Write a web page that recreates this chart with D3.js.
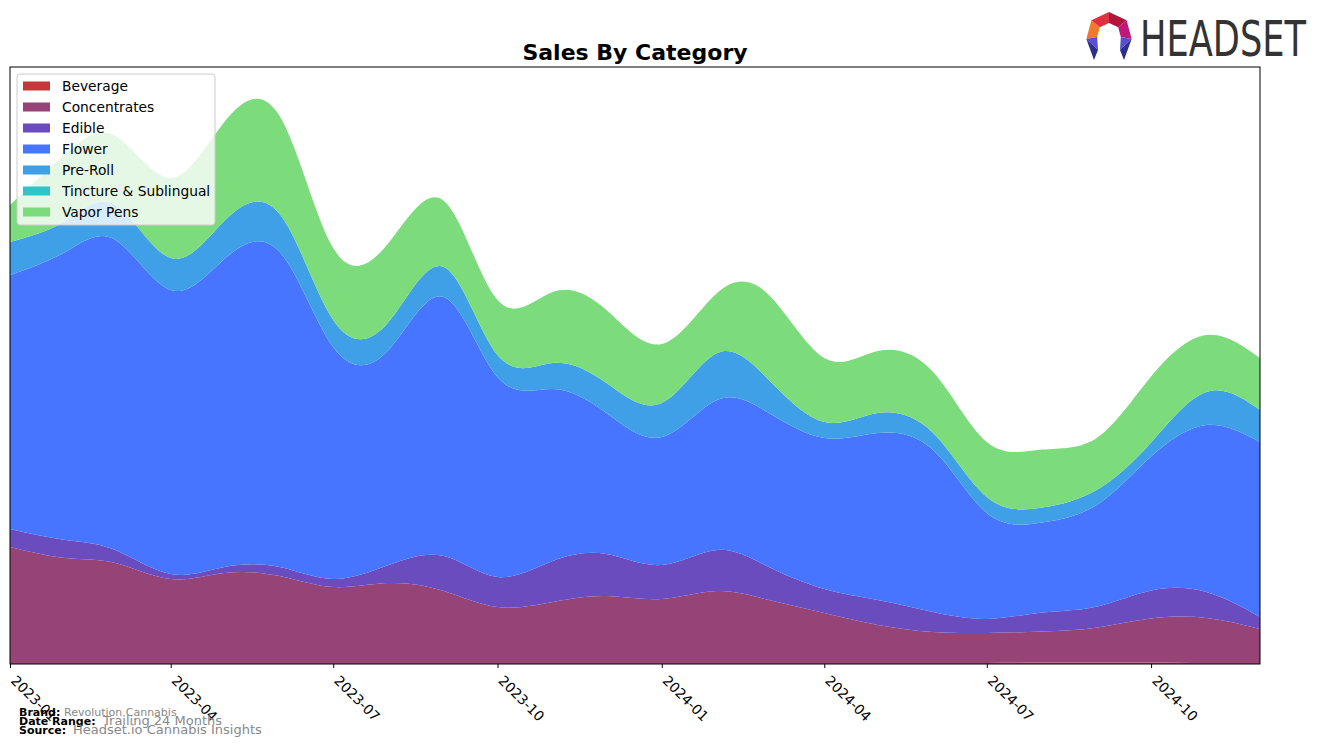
<!DOCTYPE html>
<html><head><meta charset="utf-8">
<script src="https://cdnjs.cloudflare.com/ajax/libs/d3/7.8.5/d3.min.js"></script>
<style>
html,body{margin:0;padding:0;background:#fff;}
svg{display:block;font-family:"DejaVu Sans",sans-serif;}
</style></head><body>
<svg id="chart" width="1324" height="748"></svg>
<script>
const months = ["2023-01","2023-02","2023-03","2023-04","2023-05","2023-06","2023-07","2023-08","2023-09","2023-10","2023-11","2023-12","2024-01","2024-02","2024-03","2024-04","2024-05","2024-06","2024-07","2024-08","2024-09","2024-10","2024-11","2024-12"];
const categories = ["Beverage","Concentrates","Edible","Flower","Pre-Roll","Tincture & Sublingual","Vapor Pens"];
const colors = ["#c83737","#964477","#6a4cbe","#4775ff","#3fa0e8","#2ec4c9","#7cdc7c"];
const beverage     = [1,1,1,1,1,1,1,1,1,1,1,1,1,1,1,1,1,1,1.1,1.4,1.6,1.5,1,1];
const concentrates = [116,105,100,84,90,87,76,80,72,56,61,67,64,72,63,50,38,31,30,31,35,44,45,34];
const edible       = [18,18,13,5,6,9,8,18,35,30,41,42,34,41,33,24,25,20,14,19,21,28,26,12];
const flower       = [254,288,310,284,308,315,232,215,259,200,172,141,128,150,154,151,167,162,106,90,102,134,167,175];
const preRoll      = [33,31,35,32,38,38,27,28,30,22,26,30,34,47,33,16,20,17,16,15,15,14,33,32];
const tincture     = [0,0,0,0,0,0,0,0,0,0,0,0,0,0,0,0,0,0,0,0,0,0,0,0];
const vaporPens    = [37,67,69,80,99,98,72,79,66,55,71,73,59,60,85,64,62,61,55,58,52,66,57,52];
const xTickLabels = ["2023-01","2023-04","2023-07","2023-10","2024-01","2024-04","2024-07","2024-10"];
const yMax = 597;

const series = [beverage,concentrates,edible,flower,preRoll,tincture,vaporPens];
const parse = d3.timeParse("%Y-%m");
const rows = months.map((m,i)=>{
  const r = {date: parse(m)};
  categories.forEach((c,k)=>{ r[c] = series[k][i]; });
  return r;
});

const svg = d3.select("#chart");
const L = 10, R = 1260, T = 67, B = 664;
const x = d3.scaleTime().domain([parse(months[0]), parse(months[months.length-1])]).range([L,R]);
const y = d3.scaleLinear().domain([0,yMax]).range([B,T]);

const stack = d3.stack().keys(categories);
const layers = stack(rows);

svg.append("defs").append("clipPath").attr("id","clip")
  .append("rect").attr("x",L).attr("y",T).attr("width",R-L).attr("height",B-T);

const area = d3.area().curve(d3.curveNatural)
  .x(d=>x(d.data.date)).y0(d=>y(d[0])).y1(d=>y(d[1]));

svg.append("g").attr("clip-path","url(#clip)")
  .selectAll("path").data(layers).join("path")
  .attr("d",area).attr("fill",(d,i)=>colors[i]);

// frame
svg.append("rect").attr("x",L).attr("y",T).attr("width",R-L).attr("height",B-T)
  .attr("fill","none").attr("stroke","#000").attr("stroke-width",1);

// x axis
const tickDates = xTickLabels.map(parse);
const xAxis = d3.axisBottom(x).tickValues(tickDates).tickSize(4).tickFormat(d3.timeFormat("%Y-%m"));
const gx = svg.append("g").attr("transform",`translate(0,${B})`).call(xAxis);
gx.select(".domain").remove();
gx.selectAll(".tick line").attr("stroke","#000");
gx.selectAll(".tick text")
  .attr("font-size",13.8).attr("fill","#000").attr("font-family","DejaVu Sans")
  .attr("text-anchor","start").attr("y",0).attr("dy","0.35em")
  .attr("transform","translate(3,14) rotate(45)");

// title
svg.append("text").attr("x",635).attr("y",60).attr("text-anchor","middle")
  .attr("font-size",22).attr("font-weight","bold").text("Sales By Category");

// legend
const lg = svg.append("g");
lg.append("rect").attr("x",17).attr("y",74).attr("width",198).attr("height",151).attr("rx",3)
  .attr("fill","#fff").attr("fill-opacity",0.8).attr("stroke","#cccccc");
categories.forEach((c,i)=>{
  const cy = 86 + i*21;
  lg.append("rect").attr("x",23).attr("y",cy-4.5).attr("width",27).attr("height",9).attr("fill",colors[i]);
  lg.append("text").attr("x",62).attr("y",cy+5).attr("font-size",13.8).text(c);
});

// footer
const foot = [["Brand:","Revolution Cannabis",716,64,11],["Date Range:","Trailing 24 Months",725,103,13],["Source:","Headset.io Cannabis Insights",734,73,13]];
foot.forEach(f=>{
  svg.append("text").attr("x",19).attr("y",f[2]).attr("font-size",11).attr("font-weight","bold").text(f[0]);
  svg.append("text").attr("x",f[3]).attr("y",f[2]).attr("font-size",f[4]).attr("fill","#888").text(f[1]);
});

// logo
const lgo = svg.append("g");
const cx = 1109, cyL = 35, ro = 23, ri = 12;
const pt = (a,r)=>[cx + r*Math.sin(a), cyL - r*Math.cos(a)];
const segs = [[-100,-50,"#f07a2a"],[-50,0,"#e0303f"],[0,50,"#b0153e"],[50,100,"#c0187a"]];
segs.forEach(s=>{
  const a0=s[0]*Math.PI/180, a1=s[1]*Math.PI/180;
  lgo.append("path").attr("d",d3.line()([pt(a0,ro),pt(a1,ro),pt(a1,ri),pt(a0,ri)])).attr("fill",s[2]);
});
const lp = [[-100,"#5a4fd0","#2e2f8a"],[100,"#5a4fd0","#2e2f8a"]];
lp.forEach(s=>{
  const a0=s[0]*Math.PI/180;
  const tip = [cx + (s[0]<0?-15:15), 60];
  const mid = [tip[0]+(s[0]<0?4:-4),50];
  lgo.append("path").attr("d",d3.line()([pt(a0,ro),pt(a0,ri),mid])+"Z").attr("fill",s[1]);
  lgo.append("path").attr("d",d3.line()([pt(a0,ro),mid,tip])+"Z").attr("fill",s[2]);
});
svg.append("text").attr("x",1140).attr("y",56).attr("font-size",50)
  .attr("font-family","Liberation Sans Narrow, DejaVu Sans Condensed, sans-serif")
  .attr("fill","#333").attr("textLength",166).attr("lengthAdjust","spacingAndGlyphs").text("HEADSET");
</script>
</body></html>
